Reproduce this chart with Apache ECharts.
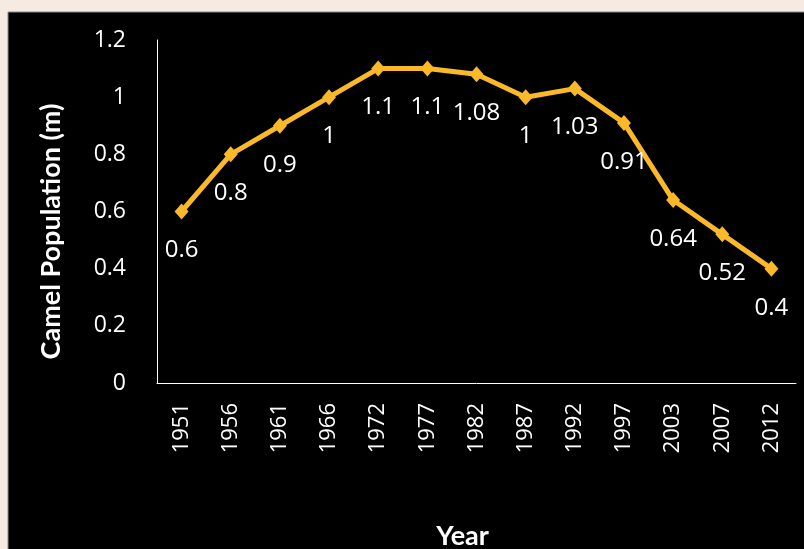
<!DOCTYPE html>
<html>
<head>
<meta charset="utf-8">
<script src="https://cdn.jsdelivr.net/npm/echarts@6/dist/echarts.min.js"></script>
<style>
html,body{margin:0;padding:0;background:#F6EBE2;}
#c{width:804px;height:549px;}
</style>
</head>
<body>
<div id="c"></div>
<script>
const years = ['1951','1956','1961','1966','1972','1977','1982','1987','1992','1997','2003','2007','2012'];
const population = [0.6, 0.8, 0.9, 1, 1.1, 1.1, 1.08, 1, 1.03, 0.91, 0.64, 0.52, 0.4];
const yTicks = {min: 0, max: 1.2, interval: 0.2};

const chart = echarts.init(document.getElementById('c'), null, {renderer: 'canvas'});
const numFont = '"Open Sans", Lato, sans-serif';
const nameFont = 'Lato, "Open Sans", sans-serif';
chart.setOption({
  backgroundColor: '#F6EBE2',
  animation: false,
  graphic: [
    {type: 'rect', z: -10, silent: true, shape: {x: 8, y: 12, width: 800, height: 540}, style: {fill: '#000000', stroke: '#8a8a8a', lineWidth: 1}}
  ],
  grid: {left: 157, right: 8, top: 40, bottom: 166, containLabel: false, outerBoundsMode: 'none'},
  xAxis: {
    type: 'category',
    data: years,
    boundaryGap: true,
    name: 'Year',
    nameLocation: 'middle',
    nameGap: 140,
    nameTextStyle: {color: '#ffffff', fontSize: 27, fontWeight: 'bold', fontFamily: nameFont, padding: [0, 28, 0, 0]},
    axisLine: {lineStyle: {color: '#ffffff', width: 1}},
    axisTick: {show: false},
    axisLabel: {color: '#ffffff', fontSize: 22, fontFamily: numFont, rotate: 90, margin: 20}
  },
  yAxis: {
    type: 'value',
    min: yTicks.min, max: yTicks.max, interval: yTicks.interval,
    name: 'Camel Population (m)',
    nameLocation: 'middle',
    nameGap: 92,
    nameTextStyle: {color: '#ffffff', fontSize: 27, fontWeight: 'bold', fontFamily: nameFont, padding: [0, 40, 0, 0]},
    axisLine: {show: true, lineStyle: {color: '#ffffff', width: 1}},
    axisTick: {show: false},
    splitLine: {show: false},
    axisLabel: {color: '#ffffff', fontSize: 23, fontFamily: numFont, margin: 31}
  },
  series: [{
    type: 'line',
    data: population,
    symbol: 'diamond',
    symbolSize: [14, 16],
    lineStyle: {color: '#FBB829', width: 5},
    itemStyle: {color: '#FBB829'},
    label: {show: true, position: 'bottom', distance: 19, color: '#ffffff', fontSize: 24, fontFamily: numFont}
  }]
});
</script>
</body>
</html>
